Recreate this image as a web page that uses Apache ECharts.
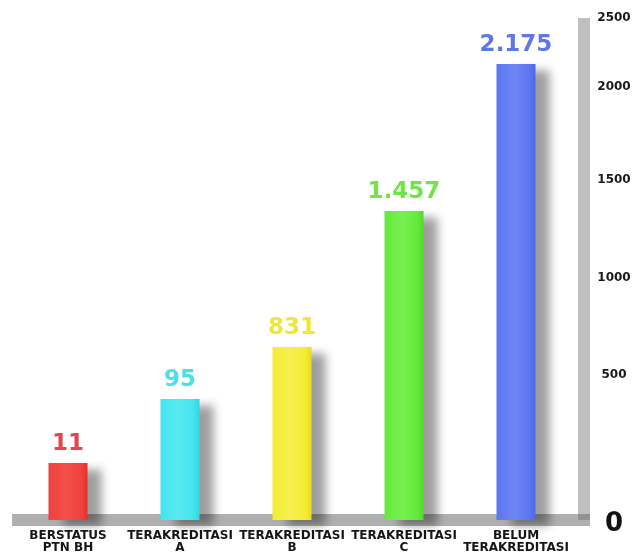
<!DOCTYPE html>
<html>
<head>
<meta charset="utf-8">
<script src="https://cdn.jsdelivr.net/npm/echarts@6/dist/echarts.min.js"></script>
<style>
html,body{margin:0;padding:0;background:#fff;}
#chart{width:636px;height:554px;}
</style>
</head>
<body>
<div id="chart"></div>
<script>
// Categories (x axis labels)
const categories = ['BERSTATUS\nPTN BH', 'TERAKREDITASI\nA', 'TERAKREDITASI\nB', 'TERAKREDITASI\nC', 'BELUM\nTERAKREDITASI'];
// Printed values above the bars
const values = [11, 95, 831, 1457, 2175];
// Bar heights as drawn in the infographic, read against its scale (the printed scale is not linear)
const barLevels = [284, 603, 862, 1539, 2271];
// Tick labels printed on the right axis and the scale levels where they sit
const tickLabels = ['0', '500', '1000', '1500', '2000', '2500'];
const tickLevels = [0, 722, 1205, 1693, 2156, 2500];

const barColors = [
  ['#f4504c', '#f0403d', '#e2302d'],
  ['#5aeaf2', '#42e4ee', '#30d6e0'],
  ['#f6ef50', '#f4ec30', '#e6dc22'],
  ['#78f050', '#62ea3a', '#52d82c'],
  ['#6f86f4', '#5b75f2', '#4e66e6']
];
const labelColors = ['#e8454a', '#4be0e6', '#f0e636', '#72e44a', '#5e78e8'];

function fmt(v) {
  return String(v).replace(/\B(?=(\d{3})+(?!\d))/g, '.');
}

const chart = echarts.init(document.getElementById('chart'), null, {renderer: 'canvas'});

const seriesData = barLevels.map((h, i) => ({
  value: h,
  itemStyle: {
    color: {
      type: 'linear', x: 0, y: 0, x2: 1, y2: 0,
      colorStops: [
        {offset: 0, color: barColors[i][1]},
        {offset: 0.45, color: barColors[i][0]},
        {offset: 0.85, color: barColors[i][1]},
        {offset: 1, color: barColors[i][2]}
      ]
    }
  },
  label: {color: labelColors[i]}
}));

chart.setOption({
  backgroundColor: '#ffffff',
  animation: false,
  grid: [
    {left: 12, right: 64, top: 18, bottom: 34},
    {left: 12, right: 46, top: 18, bottom: 34}
  ],
  xAxis: [
    {
      type: 'category', gridIndex: 0, data: categories,
      axisLine: {show: false},
      axisTick: {show: false},
      axisLabel: {
        interval: 0, margin: 10,
        fontFamily: 'DejaVu Sans', fontWeight: 'bold', fontSize: 12,
        lineHeight: 12, color: '#161616'
      }
    },
    {
      type: 'value', gridIndex: 1, min: 0, max: 1,
      axisLine: {show: true, onZero: false, lineStyle: {color: 'rgba(110,110,110,0.55)', width: 12, cap: 'butt'}},
      axisTick: {show: false}, axisLabel: {show: false}, splitLine: {show: false}
    }
  ],
  yAxis: [
    {
      type: 'value', gridIndex: 0, min: 0, max: 2500, show: false
    },
    {
      type: 'value', gridIndex: 1, min: 0, max: 2500, position: 'right', offset: -6,
      axisLine: {show: true, onZero: false, lineStyle: {color: 'rgba(128,128,128,0.5)', width: 12, cap: 'butt'}},
      axisTick: {show: false},
      splitLine: {show: false},
      axisLabel: {
        customValues: tickLevels,
        align: 'center', margin: 30,
        fontFamily: 'DejaVu Sans', fontWeight: 'bold', fontSize: 12, color: '#1a1a1a',
        formatter: function (v) {
          const i = tickLevels.indexOf(v);
          const t = i >= 0 ? tickLabels[i] : '';
          return t === '0' ? '{z|0}' : t;
        },
        rich: {
          z: {fontFamily: 'DejaVu Sans', fontWeight: 'bold', fontSize: 26, color: '#111', padding: [8, 0, 0, 0]}
        }
      }
    }
  ],
  series: [
    {
      type: 'bar', xAxisIndex: 0, yAxisIndex: 0,
      data: seriesData,
      barWidth: 39,
      z: 3,
      itemStyle: {
        shadowColor: 'rgba(0,0,0,0.38)',
        shadowBlur: 9,
        shadowOffsetX: 14,
        shadowOffsetY: 6
      },
      label: {
        show: true, position: 'top', distance: 7,
        fontFamily: 'DejaVu Sans', fontWeight: 'bold', fontSize: 23,
        formatter: function (p) { return fmt(values[p.dataIndex]); }
      }
    }
  ]
});
</script>
</body>
</html>
